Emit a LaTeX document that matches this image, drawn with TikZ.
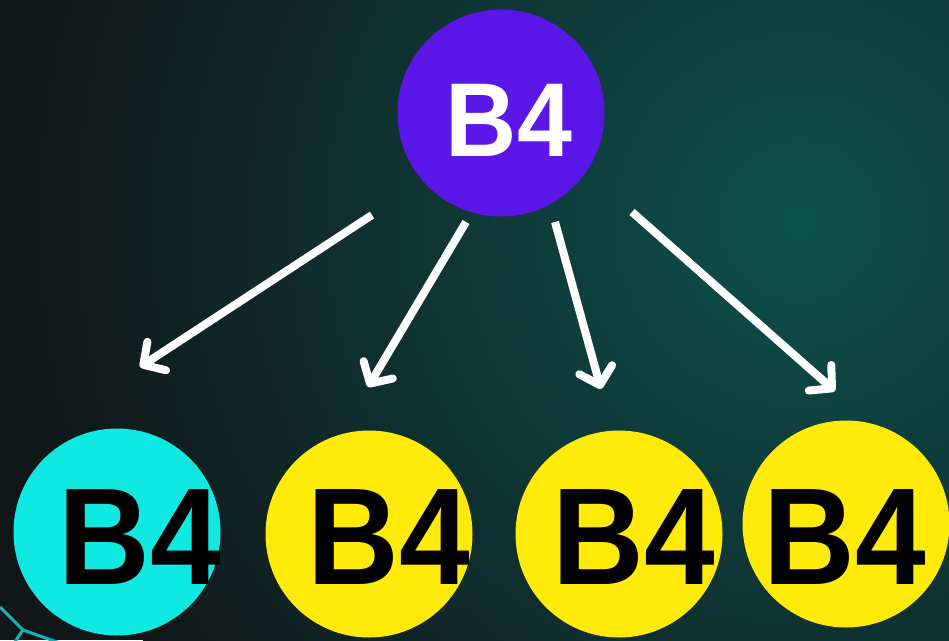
\documentclass[tikz,border=0pt]{standalone}
\usepackage{fontspec}
\setmainfont{Liberation Sans}
\usetikzlibrary{arrows.meta}

\definecolor{bgdark}{RGB}{17,23,24}
\definecolor{bgteal}{RGB}{13,80,77}
\definecolor{rootpurple}{RGB}{91,23,232}
\definecolor{leafcyan}{RGB}{15,233,225}
\definecolor{leafyellow}{RGB}{255,234,10}
\definecolor{wirecyan}{RGB}{22,178,188}

\tikzset{
    ball/.style = {circle, inner sep = 0pt, minimum size = 207pt},
    leaftext/.style = {inner sep = 0pt, xscale = 0.92, black, font = \fontsize{138}{138}\selectfont\bfseries},
    roottext/.style = {inner sep = 0pt, xscale = 0.94, white, font = \fontsize{105}{105}\selectfont\bfseries},
    pointer/.style = {-{Straight Barb[length = 16pt, width = 34pt, round]}, white, line width = 8pt}
}

\begin{document}
\begin{tikzpicture}[x = 1pt, y = -1pt]
        \useasboundingbox
            (0,0) rectangle (949,640);
        % background
        \fill
            [bgdark] (0,0) rectangle (949,640);
        \begin{scope}
            \clip (0,0) rectangle (949,640);
            \shade
                [inner color = bgteal, outer color = bgdark] (800,220) circle (780pt);
        \end{scope}
        \draw
            [wirecyan, line width = 3pt] (0,607)--(23,630)--(60,643);
        \draw
            [wirecyan, line width = 3pt] (23,630)--(14,643);
        % root
        \node
            [ball, fill = rootpurple] (root) at (501,113) {};
        \node
            [roottext] (rootlabel) at (509,120) {B4};
        % leaves
        \node
            [ball, fill = leafcyan] (leafA) at (117,532) {};
        \node
            [leaftext] (leafAlabel) at (140,537) {B4};
        \node
            [ball, fill = leafyellow] (leafB) at (369,534) {};
        \node
            [leaftext] (leafBlabel) at (389,537) {B4};
        \node
            [ball, fill = leafyellow] (leafC) at (619,534) {};
        \node
            [leaftext] (leafClabel) at (634,537) {B4};
        \node
            [ball, fill = leafyellow] (leafD) at (846,524) {};
        \node
            [leaftext] (leafDlabel) at (845,537) {B4};
        % arrows
        \coordinate (tailA) at (372,215);
        \coordinate (headA) at (140,367);
        \coordinate (tailB) at (466,222);
        \coordinate (headB) at (368,387);
        \coordinate (tailC) at (555,222);
        \coordinate (headC) at (601,389);
        \coordinate (tailD) at (632,212);
        \coordinate (headD) at (835,391);
        \draw
            [pointer] (tailA)--(headA);
        \draw
            [pointer] (tailB)--(headB);
        \draw
            [pointer] (tailC)--(headC);
        \draw
            [pointer] (tailD)--(headD);
    \end{tikzpicture}
\end{document}
